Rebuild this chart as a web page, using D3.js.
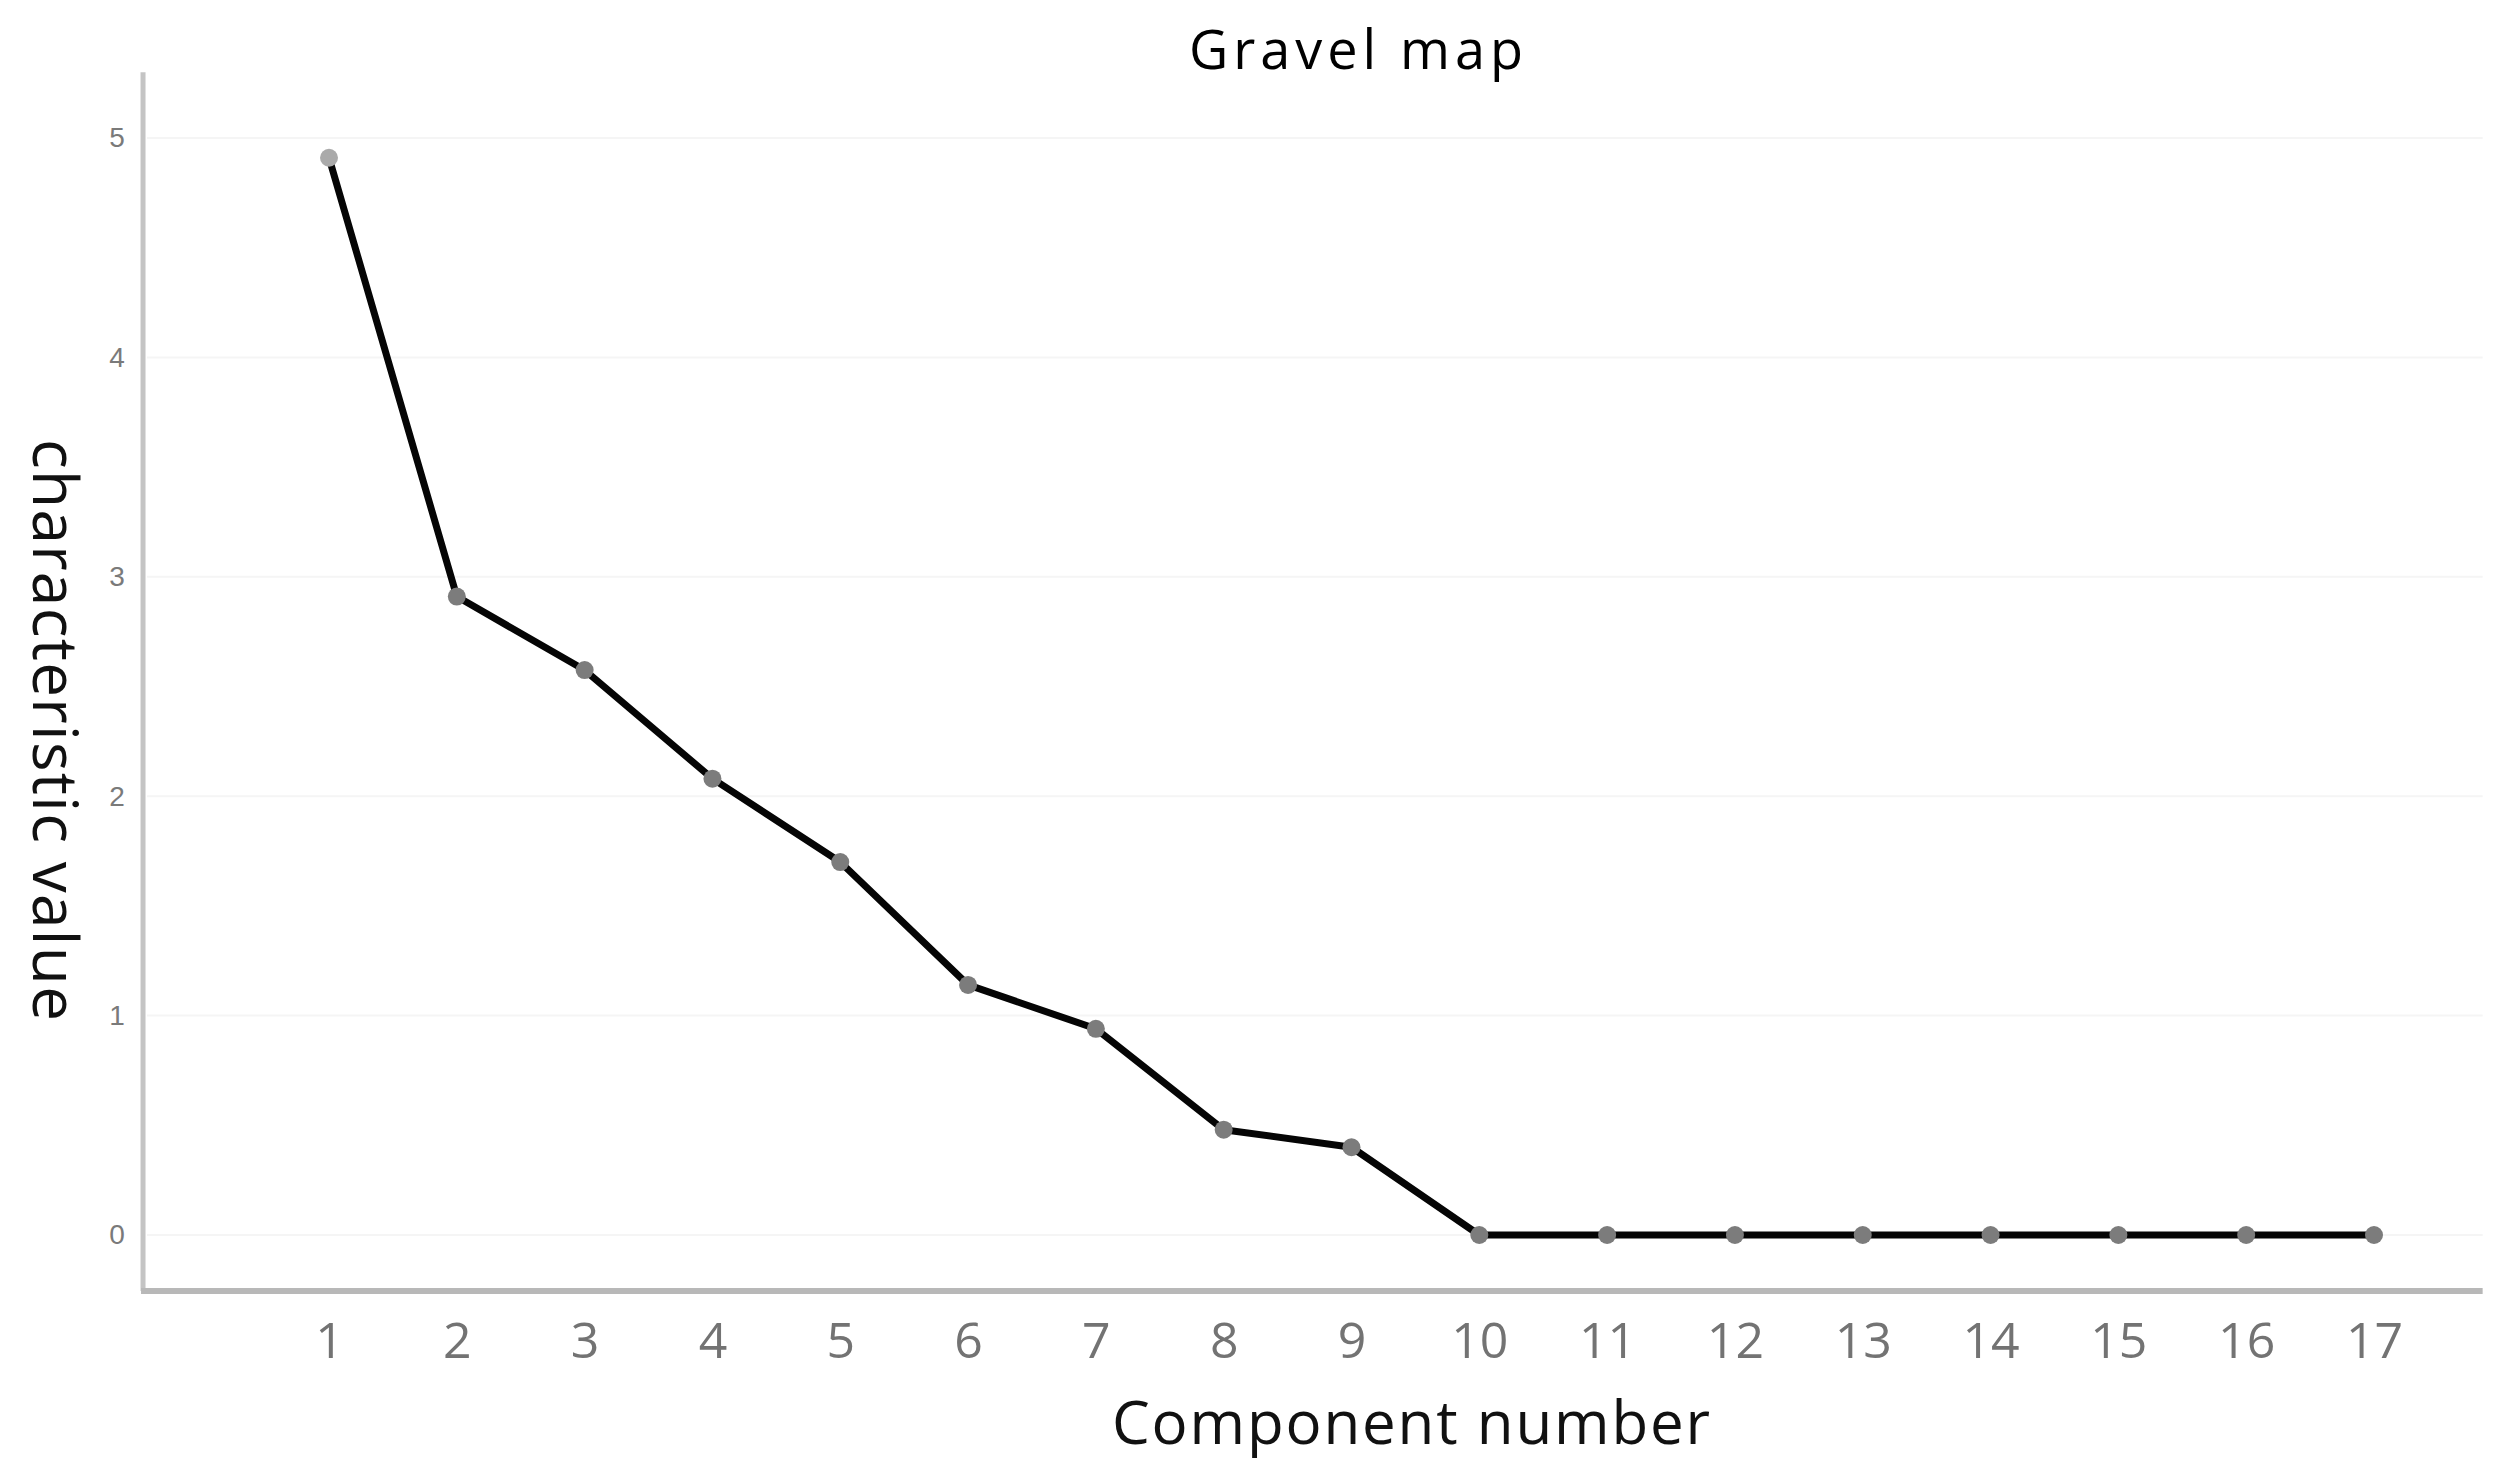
<!DOCTYPE html>
<html>
<head>
<meta charset="utf-8">
<script src="https://cdn.jsdelivr.net/npm/d3@7"></script>
<style>
  html, body { margin: 0; padding: 0; background: #ffffff; }
  svg { display: block; }
</style>
</head>
<body>
<svg id="chart" width="2502" height="1466"></svg>
<script>
// ---- data ----
const components = [1,2,3,4,5,6,7,8,9,10,11,12,13,14,15,16,17];
const eigenvalues = [4.91, 2.91, 2.575, 2.08, 1.70, 1.14, 0.94, 0.48, 0.40, 0, 0, 0, 0, 0, 0, 0, 0];
const yTicks = [0, 1, 2, 3, 4, 5];
const titleText = "Gravel map";
const xTitleText = "Component number";
const yTitleText = "characteristic value";

// ---- chart ----
const svg = d3.select("#chart");
const font = "'Open Sans', 'Noto Sans', 'DejaVu Sans', sans-serif";

const x = d3.scaleLinear().domain([1, 17]).range([329, 2374]);
const y = d3.scaleLinear().domain([0, 5]).range([1235, 138]);

const axisLeftX = x(-0.455);
const axisRightX = x(17.85);
const axisTopY = y(5.3);
const axisBottomY = y(-0.255);

// faint gridlines
svg.append("g").selectAll("line").data(yTicks).join("line")
  .attr("x1", axisLeftX + 4).attr("x2", axisRightX)
  .attr("y1", d => y(d)).attr("y2", d => y(d))
  .attr("stroke", "#f5f5f5").attr("stroke-width", 2);

// y axis (labels only, via d3 axis)
const yAxis = svg.append("g")
  .attr("transform", `translate(${axisLeftX},0)`)
  .call(d3.axisLeft(y).tickValues(yTicks).tickSize(0).tickPadding(26).tickFormat(d3.format("d")));
yAxis.select(".domain").remove();
yAxis.selectAll("text")
  .attr("font-family", "'Liberation Sans', Arial, sans-serif")
  .attr("font-size", 28)
  .attr("fill", "#7a7a7a")
  .attr("text-anchor", "middle");

// x axis (labels only)
const xAxis = svg.append("g")
  .attr("transform", `translate(0,${axisBottomY})`)
  .call(d3.axisBottom(x).tickValues(components).tickSize(0).tickPadding(32).tickFormat(d3.format("d")));
xAxis.select(".domain").remove();
xAxis.selectAll("text")
  .attr("font-family", font)
  .attr("font-size", 50)
  .attr("fill", "#737373");

// axis lines
svg.append("line")
  .attr("x1", axisLeftX).attr("x2", axisLeftX)
  .attr("y1", axisTopY).attr("y2", axisBottomY)
  .attr("stroke", "#c4c4c4").attr("stroke-width", 5);
svg.append("line")
  .attr("x1", axisLeftX - 2).attr("x2", axisRightX)
  .attr("y1", axisBottomY).attr("y2", axisBottomY)
  .attr("stroke", "#b8b8b8").attr("stroke-width", 6);

// line
const line = d3.line().x((d, i) => x(components[i])).y(d => y(d));
svg.append("path")
  .datum(eigenvalues)
  .attr("d", line)
  .attr("fill", "none")
  .attr("stroke", "#050505")
  .attr("stroke-width", 7)
  .attr("stroke-linejoin", "round");

// markers
svg.append("g").selectAll("circle").data(eigenvalues).join("circle")
  .attr("cx", (d, i) => x(components[i]))
  .attr("cy", d => y(d))
  .attr("r", 9)
  .attr("fill", (d, i) => i === 0 ? "#aaaaaa" : "#7c7c7c");

// title
svg.append("text")
  .attr("x", 1356).attr("y", 69)
  .attr("text-anchor", "middle")
  .attr("font-family", font)
  .attr("font-size", 54)
  .attr("font-weight", 500)
  .attr("fill", "#000")
  .attr("textLength", 334)
  .attr("lengthAdjust", "spacing")
  .text(titleText);

// x axis title
svg.append("text")
  .attr("x", 1411).attr("y", 1444)
  .attr("text-anchor", "middle")
  .attr("font-family", font)
  .attr("font-size", 60)
  .attr("font-weight", 500)
  .attr("fill", "#111")
  .attr("textLength", 598)
  .attr("lengthAdjust", "spacing")
  .text(xTitleText);

// y axis title (reads top to bottom)
svg.append("text")
  .attr("transform", "translate(33,730) rotate(90)")
  .attr("text-anchor", "middle")
  .attr("font-family", font)
  .attr("font-size", 62)
  .attr("font-weight", 500)
  .attr("fill", "#111")
  .attr("textLength", 582)
  .attr("lengthAdjust", "spacing")
  .text(yTitleText);
</script>
</body>
</html>
